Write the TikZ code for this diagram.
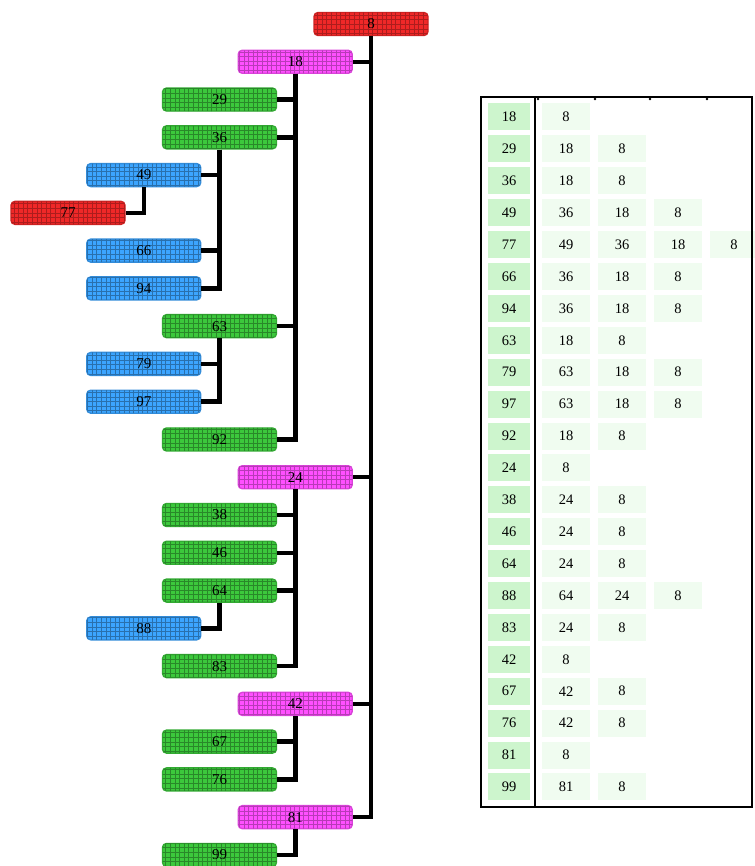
\documentclass[tikz,border=0pt]{standalone}
\usepackage{fontspec}
\setmainfont{Liberation Serif}
\usetikzlibrary{patterns}
\pgfdeclarepatternformonly{biggrid}{\pgfqpoint{-1pt}{-1pt}}{\pgfqpoint{5pt}{5pt}}{\pgfqpoint{4.6pt}{4.6pt}}{
  \pgfsetlinewidth{0.5pt}
  \pgfpathmoveto{\pgfqpoint{0pt}{0pt}}\pgfpathlineto{\pgfqpoint{0pt}{4.6pt}}
  \pgfpathmoveto{\pgfqpoint{0pt}{0pt}}\pgfpathlineto{\pgfqpoint{4.6pt}{0pt}}
  \pgfusepath{stroke}}
\definecolor{cred}{RGB}{240,40,40}
\definecolor{cmag}{RGB}{255,80,255}
\definecolor{cgrn}{RGB}{60,200,60}
\definecolor{cblu}{RGB}{60,165,255}
\definecolor{keyfill}{RGB}{205,245,205}
\definecolor{valfill}{RGB}{240,252,240}
\tikzset{
  tnode/.style={rounded corners=4pt, minimum width=114pt, minimum height=23pt, inner sep=0pt, line width=1.4pt, font=\fontsize{15}{17}\selectfont},
  lv0/.style={tnode, draw=cred!85!black, fill=cred, postaction={pattern=biggrid, pattern color=cred!72!black}},
  lv4/.style={lv0},
  lv1/.style={tnode, draw=cmag!85!black, fill=cmag, postaction={pattern=biggrid, pattern color=cmag!72!black}},
  lv2/.style={tnode, draw=cgrn!85!black, fill=cgrn, postaction={pattern=biggrid, pattern color=cgrn!68!black}},
  lv3/.style={tnode, draw=cblu!85!black, fill=cblu, postaction={pattern=biggrid, pattern color=cblu!68!black}},
  link/.style={line width=4.5pt, black},
  keycell/.style={fill=keyfill, minimum width=42pt, minimum height=27pt, inner sep=0pt, font=\fontsize{14.5}{17}\selectfont},
  valcell/.style={fill=valfill, minimum width=48pt, minimum height=27pt, inner sep=0pt, font=\fontsize{14.5}{17}\selectfont},
  frame/.style={line width=1.3pt, black}
}
\begin{document}
\begin{tikzpicture}[x=1pt,y=-1pt]
\useasboundingbox (0,0) rectangle (754,866);
% tree nodes
\foreach \n/\l/\r in {8/0/0,18/1/1,29/2/2,36/2/3,49/3/4,77/4/5,66/3/6,94/3/7,63/2/8,79/3/9,97/3/10,92/2/11,24/1/12,38/2/13,46/2/14,64/2/15,88/3/16,83/2/17,42/1/18,67/2/19,76/2/20,81/1/21,99/2/22}{
  \node[lv\l] (n\n) at ({371-75.75*\l},{24+37.77*\r}) {\n};
}
% connectors
\foreach \c/\p in {18/8,29/18,36/18,49/36,77/49,66/36,94/36,63/18,79/63,97/63,92/18,24/8,38/24,46/24,64/24,88/64,83/24,42/8,67/42,76/42,81/8,99/81}{
  \draw[link] (n\p.south) |- (n\c.east);
}
% table
\foreach \k/\r/\vals in {18/0/{8},29/1/{18,8},36/2/{18,8},49/3/{36,18,8},77/4/{49,36,18,8},66/5/{36,18,8},94/6/{36,18,8},63/7/{18,8},79/8/{63,18,8},97/9/{63,18,8},92/10/{18,8},24/11/{8},38/12/{24,8},46/13/{24,8},64/14/{24,8},88/15/{64,24,8},83/16/{24,8},42/17/{8},67/18/{42,8},76/19/{42,8},81/20/{8},99/21/{81,8}}{
  \node[keycell] (tk\r) at (509,{117+31.9*\r}) {\k};
  \foreach \v [count=\c] in \vals {
    \node[valcell] (tv\r-\c) at ({566+56*(\c-1)},{117+31.9*\r}) {\v};
  }
}
\coordinate (tl) at (481,97);
\coordinate (br) at (752,807);
\coordinate (dtop) at (535,97);
\coordinate (dbot) at (535,807);
\draw[frame] (tl) rectangle (br);
\draw[frame] (dtop) -- (dbot);
\foreach \x in {538,595,650,707}{
  \fill (\x,99) circle (1.3pt);
}
\end{tikzpicture}
\end{document}
